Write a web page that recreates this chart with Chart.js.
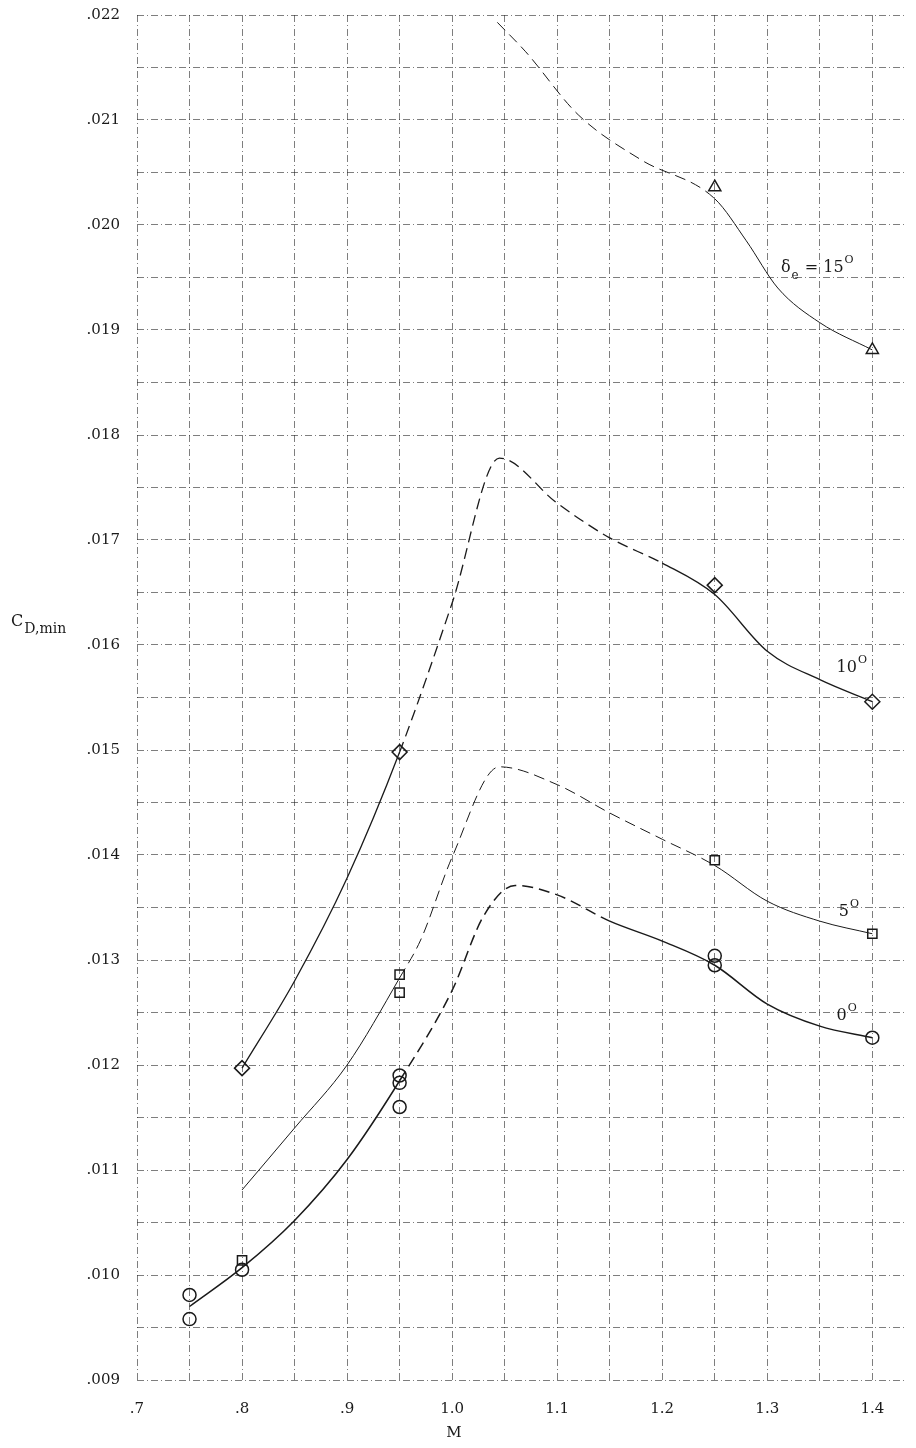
<!DOCTYPE html>
<html>
<head>
<meta charset="utf-8">
<script src="https://cdn.jsdelivr.net/npm/chart.js@4.4.1/dist/chart.umd.min.js"></script>
<style>
html,body{margin:0;padding:0;background:#fff;}
#wrap{width:916px;height:1448px;position:relative;}
</style>
</head>
<body>
<div id="wrap"><canvas id="c" width="916" height="1448"></canvas></div>
<script>
// ---- data ----
// Measured points (Mach number, C_D,min)
const circleM  = [0.75, 0.75, 0.80, 0.95, 0.95, 0.95, 1.25, 1.25, 1.40];
const circleCD = [0.00981, 0.00958, 0.01005, 0.01190, 0.01183, 0.01160, 0.01304, 0.01295, 0.01226];
const squareM  = [0.80, 0.95, 0.95, 1.25, 1.40];
const squareCD = [0.01014, 0.01286, 0.01269, 0.01395, 0.01325];
const diamondM  = [0.80, 0.95, 1.25, 1.40];
const diamondCD = [0.01197, 0.01498, 0.01657, 0.01546];
const triangleM  = [1.25, 1.40];
const triangleCD = [0.02036, 0.01881];

// Faired curves
const curve0M  = [0.75, 0.80, 0.85, 0.90, 0.95, 1.00, 1.03, 1.06, 1.10, 1.15, 1.20, 1.25, 1.30, 1.35, 1.40];
const curve0CD = [0.00970, 0.01007, 0.01052, 0.01110, 0.01185, 0.01271, 0.01342, 0.01371, 0.01362, 0.01337, 0.01318, 0.01295, 0.01258, 0.01237, 0.01226];
const curve5M  = [0.80, 0.85, 0.90, 0.95, 0.97, 1.00, 1.045, 1.10, 1.15, 1.20, 1.25, 1.30, 1.35, 1.40];
const curve5CD = [0.01081, 0.01140, 0.01200, 0.01283, 0.01319, 0.01398, 0.01484, 0.01467, 0.01440, 0.01415, 0.01390, 0.01356, 0.01337, 0.01325];
const curve10M  = [0.80, 0.85, 0.90, 0.95, 1.00, 1.045, 1.10, 1.15, 1.20, 1.25, 1.30, 1.35, 1.40];
const curve10CD = [0.01197, 0.01280, 0.01378, 0.01498, 0.01640, 0.01778, 0.01735, 0.01702, 0.01678, 0.01648, 0.01594, 0.01567, 0.01546];
const curve15M  = [1.043, 1.07, 1.12, 1.18, 1.25, 1.28, 1.31, 1.35, 1.40];
const curve15CD = [0.02193, 0.02165, 0.02105, 0.02062, 0.02025, 0.01985, 0.01940, 0.01907, 0.01881];

// dashed stretches of each curve (Mach range)
const dash0 = [0.95, 1.15];
const dash5 = [0.95, 1.25];
const dash10 = [0.95, 1.20];
const dash15 = [1.0, 1.25];

// axis ticks
const xMin = 0.7, xMax = 1.433, xStep = 0.05;
const yMin = 0.009, yMax = 0.022, yStep = 0.0005;

const pts = (xs, ys) => xs.map((x, i) => ({x: x, y: ys[i]}));

const SERIF = '"DejaVu Serif", "Liberation Serif", serif';
const INK = '#1a1a1a';

function curveDataset(xs, ys, dash, width) {
  return {
    type: 'line',
    data: pts(xs, ys),
    borderColor: INK,
    borderWidth: width,
    pointRadius: 0,
    fill: false,
    cubicInterpolationMode: 'monotone',
    segment: {
      borderDash: ctx => (ctx.p0.parsed.x >= dash[0] - 1e-9 && ctx.p1.parsed.x <= dash[1] + 1e-9) ? [11, 6] : undefined
    },
    order: 2
  };
}
function markerDataset(xs, ys, style, r) {
  return {
    type: 'scatter',
    data: pts(xs, ys),
    pointStyle: style,
    pointRadius: r,
    pointBorderColor: INK,
    pointBackgroundColor: 'rgba(255,255,255,0)',
    pointBorderWidth: 1.5,
    showLine: false,
    order: 1
  };
}

// labels drawn at data positions
const curveLabels = [
  {x: 1.313, y: 0.01955, parts: [['δ', 0, 16], ['e', 7, 12], [' = 15', 0, 16], ['O', -9, 11]]},
  {x: 1.366, y: 0.01574, parts: [['10', 0, 16], ['O', -9, 11]]},
  {x: 1.368, y: 0.01342, parts: [['5', 0, 16], ['O', -9, 11]]},
  {x: 1.366, y: 0.01243, parts: [['0', 0, 16], ['O', -9, 11]]}
];

const textPlugin = {
  id: 'texts',
  afterDatasetsDraw(chart) {
    const c = chart.ctx, xs = chart.scales.x, ys = chart.scales.y;
    c.save();
    c.fillStyle = INK;
    c.textBaseline = 'alphabetic';
    c.textAlign = 'left';
    curveLabels.forEach(l => {
      let px = xs.getPixelForValue(l.x), py = ys.getPixelForValue(l.y);
      l.parts.forEach(p => {
        c.font = p[2] + 'px ' + SERIF;
        c.fillText(p[0], px, py + p[1]);
        px += c.measureText(p[0]).width + 1;
      });
    });
    // y axis title
    c.font = '16px ' + SERIF;
    c.fillText('C', 11, 626);
    const w = c.measureText('C').width;
    c.font = '14px ' + SERIF;
    c.fillText('D,min', 11 + w + 1, 633);
    // x axis title
    c.font = '15px ' + SERIF;
    c.textAlign = 'center';
    c.fillText('M', 454, 1437);
    c.restore();
  }
};

new Chart(document.getElementById('c'), {
  type: 'scatter',
  data: {
    datasets: [
      curveDataset(curve0M, curve0CD, dash0, 1.5),
      curveDataset(curve5M, curve5CD, dash5, 1.0),
      curveDataset(curve10M, curve10CD, dash10, 1.3),
      curveDataset(curve15M, curve15CD, dash15, 1.0),
      markerDataset(circleM, circleCD, 'circle', 6.5),
      markerDataset(squareM, squareCD, 'rect', 6.5),
      markerDataset(diamondM, diamondCD, 'rectRot', 7.5),
      markerDataset(triangleM, triangleCD, 'triangle', 7)
    ]
  },
  options: {
    responsive: false,
    animation: false,
    devicePixelRatio: 1,
    layout: {padding: {top: 15, right: 0, left: 0, bottom: 0}},
    plugins: {legend: {display: false}, tooltip: {enabled: false}},
    scales: {
      x: {
        type: 'linear', min: xMin, max: xMax,
        afterFit: s => { s.height = 68; s.paddingLeft = 0; s.paddingRight = 0; },
        border: {display: false, dash: [7, 3, 1, 3]},
        grid: {color: 'rgba(40,40,40,0.6)', lineWidth: 1, drawTicks: false},
        ticks: {
          stepSize: xStep, includeBounds: false, autoSkip: false, maxRotation: 0, padding: 20,
          color: INK, font: {family: SERIF, size: 15},
          callback: v => {
            const k = Math.round(v * 100);
            if (k % 10 !== 0) return '';
            return k < 100 ? '.' + (k / 10) : (k / 100).toFixed(1);
          }
        }
      },
      y: {
        type: 'linear', min: yMin, max: yMax,
        afterFit: s => { s.width = 137; s.paddingTop = 0; s.paddingBottom = 0; },
        border: {display: false, dash: [7, 3, 1, 3]},
        grid: {color: 'rgba(40,40,40,0.6)', lineWidth: 1, drawTicks: false},
        ticks: {
          stepSize: yStep, autoSkip: false, padding: 17,
          color: INK, font: {family: SERIF, size: 15},
          callback: v => {
            const k = Math.round(v * 10000);
            if (k % 10 !== 0) return '';
            return '.' + String(Math.round(v * 1000)).padStart(3, '0');
          }
        }
      }
    }
  },
  plugins: [textPlugin]
});
</script>
</body>
</html>
